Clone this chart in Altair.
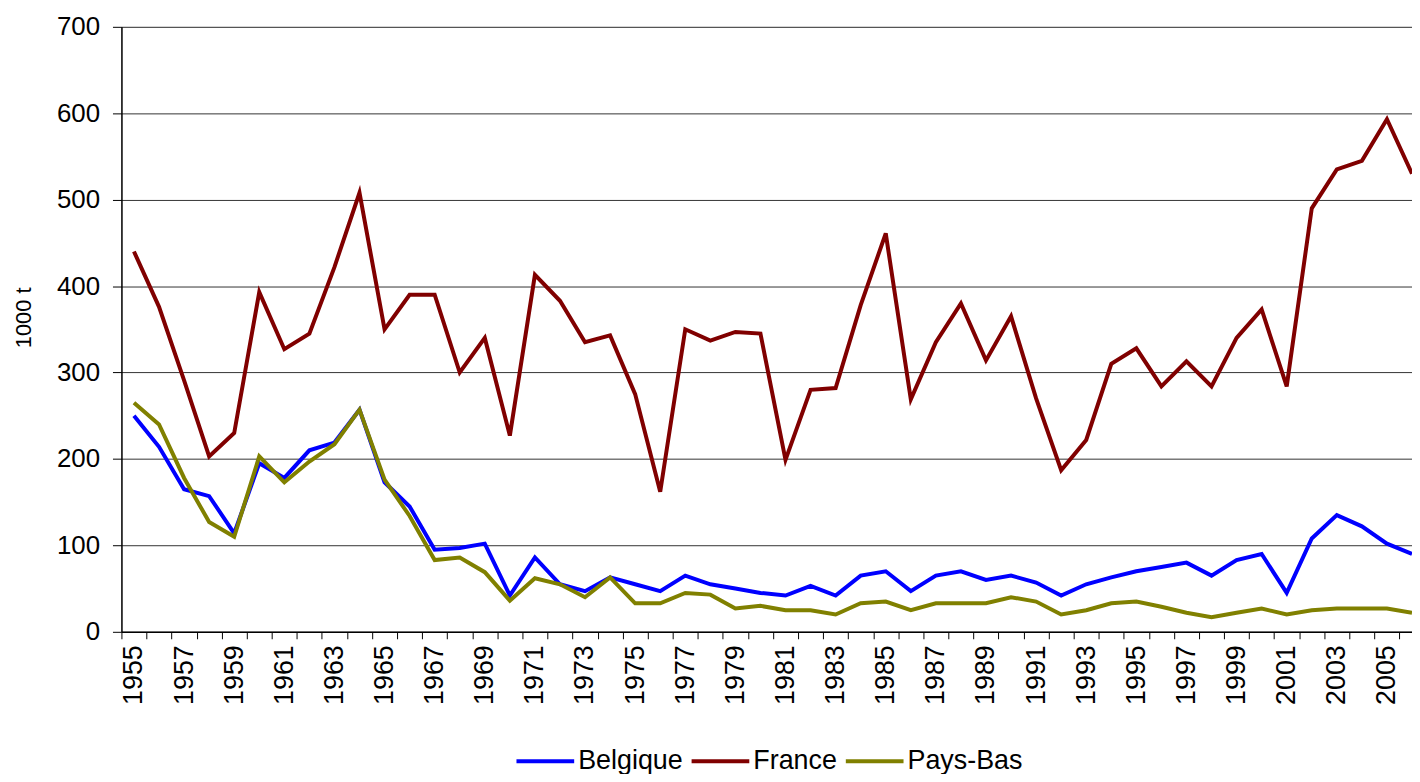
import altair as alt
import pandas as pd

years = list(range(1955, 2007))

belgique = [250, 214, 165, 157, 114, 195, 178, 210, 219, 257,
            173, 145, 95, 97, 102, 42, 86, 55, 47, 63,
            55, 47, 65, 55, 50, 45, 42, 53, 42, 65,
            70, 47, 65, 70, 60, 65, 57, 42, 55, 63,
            70, 75, 80, 65, 83, 90, 45, 108, 135, 122,
            102, 90]

france = [440, 376, 291, 203, 230, 393, 327, 345, 422, 508,
          350, 390, 390, 300, 340, 227, 413, 383, 335, 343,
          275, 162, 350, 337, 347, 345, 199, 280, 282, 378,
          461, 269, 335, 380, 314, 365, 270, 187, 222, 310,
          328, 284, 313, 284, 340, 373, 284, 490, 535, 545,
          593, 530]

pays_bas = [265, 240, 178, 127, 110, 203, 173, 197, 217, 257,
            176, 134, 83, 86, 69, 36, 62, 55, 40, 63,
            33, 33, 45, 43, 27, 30, 25, 25, 20, 33,
            35, 25, 33, 33, 33, 40, 35, 20, 25, 33,
            35, 29, 22, 17, 22, 27, 20, 25, 27, 27,
            27, 22]

series_names = ["Belgique", "France", "Pays-Bas"]
series_colors = ["#0000FF", "#800000", "#808000"]
y_ticks = [0, 100, 200, 300, 400, 500, 600, 700]
label_years = list(range(1955, 2006, 2))
boundary_ticks = [y - 0.5 for y in range(1955, 2007)]

rows = []
for name, vals in zip(series_names, [belgique, france, pays_bas]):
    for yr, v in zip(years, vals):
        rows.append({"year": yr, "value": v, "pays": name})
df = pd.DataFrame(rows)
df_ticks = pd.DataFrame({"year": boundary_ticks})

FONT = "Liberation Sans"
x_scale = alt.Scale(domain=[1954.5, 2006], nice=False, zero=False)

x_label_axis = alt.Axis(
    orient="bottom",
    values=label_years,
    format="d",
    labelAngle=-90,
    labelFont=FONT,
    labelFontSize=27,
    labelColor="black",
    labelPadding=13,
    labelOverlap=False,
    labelFlush=False,
    ticks=False,
    tickSize=0,
    domainColor="#000",
    domainWidth=1.5,
    grid=False,
    title=None,
)

x_tick_axis = alt.Axis(
    orient="bottom",
    values=boundary_ticks,
    labels=False,
    ticks=True,
    tickSize=7,
    tickColor="#000",
    tickWidth=1,
    domain=False,
    grid=False,
    title=None,
)

y_axis = alt.Axis(
    values=y_ticks,
    labelFont=FONT,
    labelFontSize=26,
    labelColor="black",
    labelPadding=13,
    tickSize=9,
    tickColor="#000",
    domainColor="#000",
    domainWidth=1.5,
    grid=True,
    gridColor="#333",
    gridWidth=1,
    title="1000 t",
    titleFont=FONT,
    titleFontSize=22,
    titleFontWeight="normal",
    titleColor="black",
    titleX=-86,
    titleY=292,
)

lines = alt.Chart(df).mark_line(strokeWidth=4, clip=True).encode(
    x=alt.X("year:Q", scale=x_scale, axis=x_label_axis),
    y=alt.Y("value:Q", scale=alt.Scale(domain=[0, 700], nice=False), axis=y_axis),
    color=alt.Color(
        "pays:N",
        scale=alt.Scale(domain=series_names, range=series_colors),
        legend=alt.Legend(
            orient="none",
            legendX=395,
            legendY=707,
            direction="horizontal",
            symbolType="stroke",
            symbolSize=3364,
            symbolStrokeWidth=4,
            labelFont=FONT,
            labelFontSize=27,
            labelColor="black",
            labelOffset=2,
            columnPadding=0,
            padding=0,
            title=None,
        ),
    ),
    order=alt.Order("year:Q"),
)

ticks = alt.Chart(df_ticks).mark_point(opacity=0).encode(
    x=alt.X("year:Q", scale=x_scale, axis=x_tick_axis),
)

chart = alt.layer(lines, ticks).resolve_axis(x="independent").properties(
    width=1297,
    height=608,
    autosize="none",
    padding={"left": 114, "top": 17, "right": 0, "bottom": 141},
).configure_view(stroke=None).configure(background="white")

chart.save("out.html", embed_options={"renderer": "svg", "actions": False})
